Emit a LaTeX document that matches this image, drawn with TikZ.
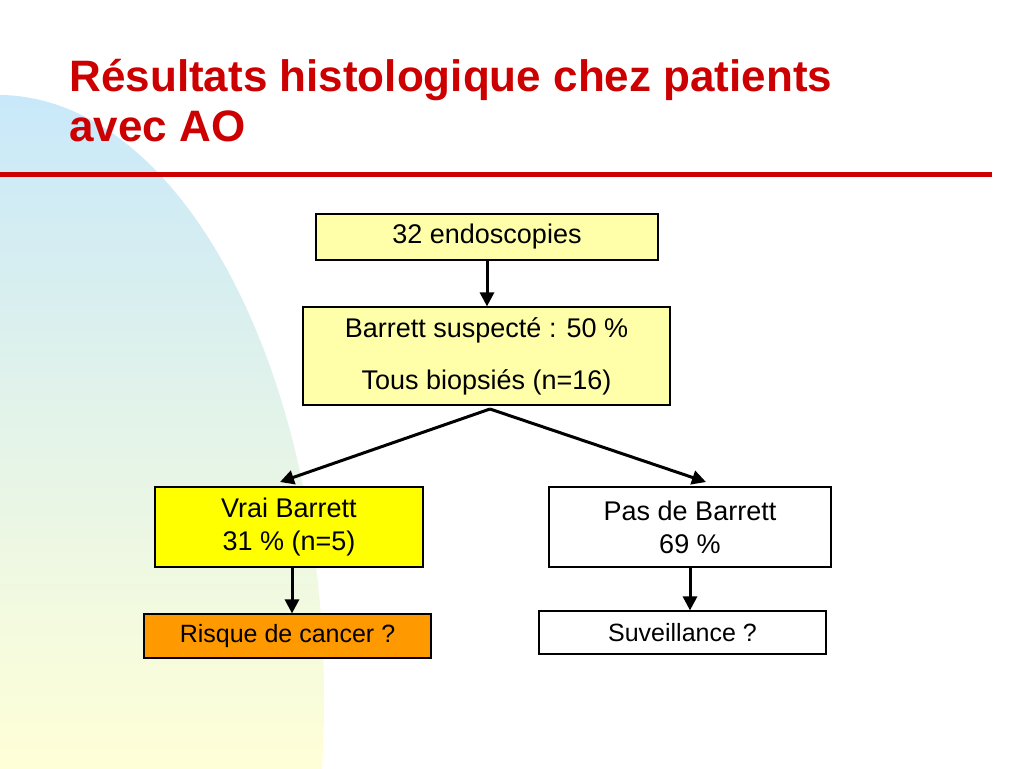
\documentclass[tikz,border=0pt]{standalone}
\usepackage{fontspec}
\setmainfont{Liberation Sans}
\usetikzlibrary{arrows.meta}

\begin{document}
\begin{tikzpicture}[x=1pt,y=-1pt,font=\fontsize{27}{32}\selectfont]
% Colors
\definecolor{titlered}{RGB}{204,0,0}
\definecolor{paleyel}{RGB}{255,255,170}
\definecolor{brightyel}{RGB}{255,255,0}
\definecolor{orangebox}{RGB}{255,153,0}
\definecolor{skyblue}{RGB}{200,232,250}
\definecolor{creamy}{RGB}{255,255,215}
\tikzset{
  box/.style={draw=black, line width=1.2pt, inner sep=0pt, align=center},
  flow/.style={-{Triangle[length=14pt,width=14pt]}, line width=3pt}
}
\useasboundingbox (0,0) rectangle (1024,768);
\fill[white] (0,0) rectangle (1024,768);

% Background shape
\begin{scope}
\clip (0,0) rectangle (1024,768);
\clip (-2,700) ellipse [x radius=326, y radius=605];
\shade[top color=skyblue, bottom color=creamy] (0,90) rectangle (330,768);
\end{scope}

% Title
\node[anchor=north west, align=left, text=titlered, font=\fontsize{44}{50}\selectfont\bfseries] (title) at (66,56) {Résultats histologique chez patients\\avec AO};
\draw[titlered, line width=5pt] (0,174) -- (992,174);

% Boxes
\node[box, fill=paleyel, minimum width=342pt, minimum height=46pt] (endo) at (487,237) {32 endoscopies};
\node[box, fill=paleyel, minimum width=367pt, minimum height=98pt, font=\fontsize{27}{52}\selectfont] (susp) at (486.5,356) {Barrett suspecté : 50 \%\\Tous biopsiés (n=16)};
\node[box, fill=brightyel, minimum width=268pt, minimum height=80pt, font=\fontsize{27}{33}\selectfont] (vrai) at (289,527) {Vrai Barrett\\31 \% (n=5)};
\node[box, fill=white, minimum width=282pt, minimum height=80pt, font=\fontsize{27}{33}\selectfont] (pas) at (690,527) {Pas de Barrett\\69 \%};
\node[box, fill=orangebox, minimum width=287pt, minimum height=44pt, font=\fontsize{25}{30}\selectfont] (risk) at (287.5,636) {Risque de cancer ?};
\node[box, fill=white, minimum width=287pt, minimum height=43pt, font=\fontsize{25}{30}\selectfont] (surv) at (682.5,632.5) {Suveillance ?};

% Connectors
\draw[flow] (endo.south -| 487,0) -- (susp.north -| 487,0);
\coordinate (split) at (490,409);
\draw[flow] (split) -- (280,482);
\draw[flow] (split) -- (706,482);
\draw[flow] (vrai.south -| 292,0) -- (risk.north -| 292,0);
\draw[flow] (pas.south -| 690,0) -- (surv.north -| 690,0);
\end{tikzpicture}
\end{document}
